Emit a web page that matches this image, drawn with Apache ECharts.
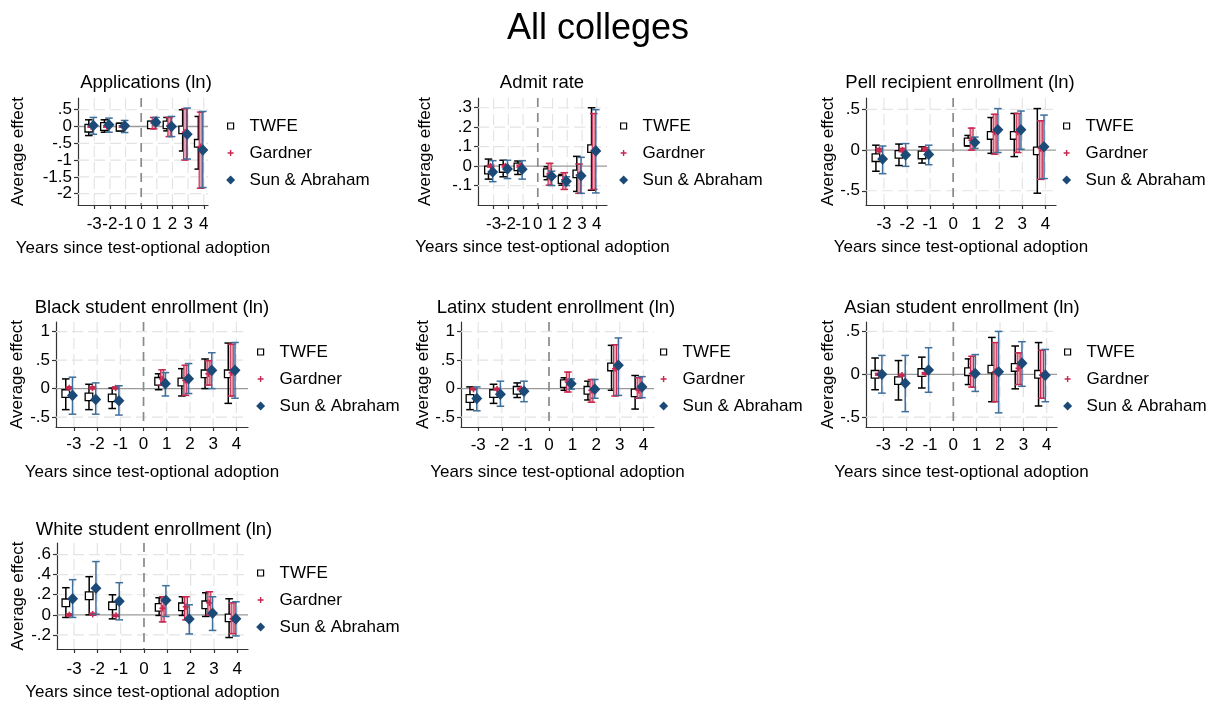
<!DOCTYPE html>
<html><head><meta charset="utf-8">
<script src="https://cdn.jsdelivr.net/npm/echarts@6/dist/echarts.min.js"></script>
<style>html,body{margin:0;padding:0;background:#fff}#c{width:1211px;height:702px}</style>
</head><body><div id="c"></div><script>
// ---------------- data ----------------
const eventTimes = [-3, -2, -1, 1, 2, 3, 4];
const xTicks = [-3, -2, -1, 0, 1, 2, 3, 4];
const estimators = ['TWFE', 'Gardner', 'Sun & Abraham'];
const mainTitle = 'All colleges';
const xTitle = 'Years since test-optional adoption';
const yTitle = 'Average effect';
const panelTitles = ['Applications (ln)', 'Admit rate', 'Pell recipient enrollment (ln)',
  'Black student enrollment (ln)', 'Latinx student enrollment (ln)', 'Asian student enrollment (ln)',
  'White student enrollment (ln)'];

const yTicksApp = [-2, -1.5, -1, -0.5, 0, 0.5];
const yTicksAdmit = [-0.1, 0, 0.1, 0.2, 0.3];
const yTicksPell = [-0.5, 0, 0.5];
const yTicksBlack = [-0.5, 0, 0.5, 1];
const yTicksLatinx = [-0.5, 0, 0.5, 1];
const yTicksAsian = [-0.5, 0, 0.5];
const yTicksWhite = [-0.2, 0, 0.2, 0.4, 0.6];

// rows: [estimate, lower CI, upper CI] for event times -3,-2,-1,1,2,3,4
const appTWFE    = [[-0.05,-0.27,0.2],[0,-0.17,0.2],[-0.02,-0.13,0.1],[0.05,-0.05,0.15],[0.05,-0.13,0.27],[-0.1,-0.73,0.5],[-0.5,-1.27,0.3]];
const appGardner = [[0,-0.02,0.02],[0,-0.02,0.02],[0,-0.02,0.02],[0.1,-0.07,0.27],[0.02,-0.3,0.27],[-0.17,-1.0,0.53],[-0.6,-1.84,0.43]];
const appSA      = [[0.03,-0.23,0.27],[0.05,-0.17,0.25],[0.02,-0.18,0.18],[0.13,0.05,0.27],[0,-0.3,0.3],[-0.23,-0.97,0.55],[-0.7,-1.82,0.45]];

const admitTWFE    = [[-0.02,-0.067,0.036],[-0.012,-0.055,0.03],[-0.004,-0.043,0.026],[-0.034,-0.07,-0.003],[-0.069,-0.098,-0.043],[-0.04,-0.13,0.05],[0.09,-0.124,0.3]];
const admitGardner = [[0,-0.005,0.005],[0,-0.005,0.005],[0,-0.005,0.005],[-0.04,-0.098,0.014],[-0.07,-0.12,-0.034],[-0.045,-0.14,0.01],[0.08,-0.12,0.27]];
const admitSA      = [[-0.03,-0.08,0.028],[-0.015,-0.064,0.03],[-0.016,-0.067,0.028],[-0.052,-0.1,-0.026],[-0.078,-0.1,-0.055],[-0.05,-0.14,0.045],[0.078,-0.138,0.29]];

const pellTWFE    = [[-0.094,-0.26,0.06],[-0.053,-0.19,0.074],[-0.06,-0.16,0.04],[0.1,0.05,0.18],[0.18,-0.04,0.4],[0.18,-0.08,0.45],[-0.01,-0.53,0.51]];
const pellGardner = [[0,-0.02,0.02],[0,-0.02,0.02],[0.01,-0.01,0.03],[0.12,0,0.27],[0.22,-0.05,0.44],[0.22,-0.03,0.45],[0.02,-0.36,0.36]];
const pellSA      = [[-0.11,-0.29,0.05],[-0.06,-0.2,0.08],[-0.053,-0.18,0.06],[0.094,0.02,0.16],[0.25,-0.03,0.51],[0.25,0.01,0.48],[0.04,-0.35,0.43]];

const blackTWFE    = [[-0.087,-0.37,0.17],[-0.145,-0.37,0.076],[-0.163,-0.35,0.01],[0.128,-0.02,0.26],[0.116,-0.13,0.35],[0.26,0,0.52],[0.26,-0.26,0.8]];
const blackGardner = [[0.01,-0.005,0.03],[0.01,-0.005,0.03],[0.01,-0.005,0.03],[0.17,0.06,0.33],[0.145,-0.12,0.41],[0.26,0.06,0.49],[0.28,-0.13,0.78]];
const blackSA      = [[-0.12,-0.45,0.2],[-0.19,-0.45,0.1],[-0.215,-0.465,0.05],[0.087,-0.13,0.28],[0.174,-0.087,0.44],[0.32,0,0.63],[0.32,-0.17,0.81]];

const latinxTWFE    = [[-0.174,-0.37,0.03],[-0.087,-0.26,0.076],[-0.03,-0.157,0.1],[0.087,-0.03,0.19],[-0.03,-0.2,0.13],[0.38,-0.03,0.76],[-0.075,-0.36,0.23]];
const latinxGardner = [[-0.01,-0.02,0.005],[-0.01,-0.02,0.005],[-0.01,-0.02,0.005],[0.116,-0.06,0.29],[-0.03,-0.24,0.16],[0.35,-0.13,0.77],[-0.03,-0.17,0.19]];
const latinxSA      = [[-0.174,-0.39,0.03],[-0.1,-0.31,0.13],[-0.047,-0.23,0.13],[0.087,-0.01,0.17],[-0.01,-0.17,0.16],[0.41,-0.12,0.89],[0.03,-0.16,0.21]];

const asianTWFE    = [[0,-0.18,0.19],[-0.074,-0.3,0.16],[0.02,-0.16,0.2],[0.03,-0.12,0.18],[0.06,-0.32,0.43],[0.08,-0.17,0.33],[0,-0.37,0.37]];
const asianGardner = [[0,-0.01,0.01],[-0.01,-0.02,0],[0.01,0,0.02],[0.01,-0.15,0.21],[0.03,-0.32,0.37],[0.07,-0.12,0.25],[-0.01,-0.28,0.28]];
const asianSA      = [[0,-0.22,0.22],[-0.105,-0.436,0.22],[0.05,-0.21,0.31],[0.01,-0.2,0.23],[0.03,-0.45,0.5],[0.13,-0.14,0.38],[-0.01,-0.32,0.29]];

const whiteTWFE    = [[0.12,-0.026,0.27],[0.19,0,0.38],[0.09,-0.04,0.2],[0.074,-0.006,0.17],[0.08,-0.006,0.18],[0.1,-0.016,0.22],[-0.03,-0.226,0.16]];
const whiteGardner = [[0,-0.01,0.01],[0.006,-0.004,0.016],[-0.006,-0.016,0.004],[0.065,-0.07,0.18],[0.08,-0.05,0.18],[0.12,0,0.23],[-0.04,-0.187,0.12]];
const whiteSA      = [[0.16,-0.026,0.35],[0.265,0.006,0.53],[0.135,-0.05,0.32],[0.145,-0.016,0.29],[-0.042,-0.19,0.1],[0.016,-0.155,0.18],[-0.04,-0.21,0.13]];

// ---------------- layout / style ----------------
const FONT = "'Liberation Sans', Arial, Helvetica, sans-serif";
const LABEL_FONT = "17px 'Liberation Sans', Arial, Helvetica, sans-serif";
const xOffsets = [-0.35, -0.2, -0.06];
const C_TWFE = '#000000', C_G = '#c8284f', C_G_FILL = '#e7a9b8', C_SA_BAR = '#3f6f9b', C_SA = '#1c4a78';

const panels = [
  {series:[appTWFE, appGardner, appSA], yTicks:yTicksApp, left:78, top:98, width:130, height:107, xMin:-4.04, xMax:4.27, yMin:-2.34, yMax:0.85, tx:146, ty:83, lx:238, ly:126, yGap:51, xLabM:11, xGap:35},
  {series:[admitTWFE, admitGardner, admitSA], yTicks:yTicksAdmit, left:478, top:98, width:129, height:107, xMin:-4.06, xMax:4.7, yMin:-0.2, yMax:0.35, tx:542, ty:83, lx:631, ly:126, yGap:44, xLabM:11, xGap:34},
  {series:[pellTWFE, pellGardner, pellSA], yTicks:yTicksPell, left:866, top:98, width:190, height:107, xMin:-3.78, xMax:4.46, yMin:-0.675, yMax:0.64, tx:960, ty:83, lx:1074, ly:126, yGap:29, xLabM:11, xGap:34},
  {series:[blackTWFE, blackGardner, blackSA], yTicks:yTicksBlack, left:56, top:322, width:192, height:105, xMin:-3.77, xMax:4.5, yMin:-0.675, yMax:1.17, tx:152, ty:308, lx:268, ly:352, yGap:30, xLabM:9, xGap:37},
  {series:[latinxTWFE, latinxGardner, latinxSA], yTicks:yTicksLatinx, left:461, top:322, width:193, height:105, xMin:-3.73, xMax:4.45, yMin:-0.675, yMax:1.17, tx:556, ty:308, lx:671, ly:352, yGap:29, xLabM:10, xGap:37},
  {series:[asianTWFE, asianGardner, asianSA], yTicks:yTicksAsian, left:866, top:322, width:191, height:105, xMin:-3.74, xMax:4.44, yMin:-0.615, yMax:0.61, tx:962, ty:308, lx:1075, ly:352, yGap:29, xLabM:10, xGap:37},
  {series:[whiteTWFE, whiteGardner, whiteSA], yTicks:yTicksWhite, left:57, top:543, width:191, height:109, xMin:-3.73, xMax:4.46, yMin:-0.34, yMax:0.715, tx:154, ty:530, lx:268, ly:573, yGap:30, xLabM:12, xGap:35}
];

function fmtY(v) {
  const s = String(+(+v).toFixed(2));
  return s.replace(/^(-?)0\./, '$1.');
}

function txt(text, x, y, align, valign) {
  return {type:'text', x:x, y:y, silent:true,
    style:{text:text, font:LABEL_FONT, fill:'#000', textAlign:align, textVerticalAlign:valign,
      align:align, verticalAlign:valign}};
}

function gridRender(p) {
  return function (params, api) {
    const cs = params.coordSys;
    const ch = [];
    xTicks.forEach(function (v) {
      const px = api.coord([v, 0])[0];
      if (v !== 0) {
        ch.push({type:'line', shape:{x1:px, y1:cs.y, x2:px, y2:cs.y + cs.height},
          style:{stroke:'#e4e4e4', lineWidth:1.2, lineDash:[11, 5]}});
      }
      ch.push(txt(String(v), px, cs.y + cs.height + p.xLabM, 'center', 'top'));
    });
    p.yTicks.forEach(function (v) {
      const py = api.coord([0, v])[1];
      if (v !== 0) {
        ch.push({type:'line', shape:{x1:cs.x, y1:py, x2:cs.x + cs.width, y2:py},
          style:{stroke:'#e4e4e4', lineWidth:1.2, lineDash:[11, 5]}});
      }
      ch.push(txt(fmtY(v), cs.x - 6, py, 'right', 'middle'));
    });
    const y0 = api.coord([0, 0])[1];
    ch.push({type:'line', shape:{x1:cs.x, y1:y0, x2:cs.x + cs.width, y2:y0},
      style:{stroke:'#9a9a9a', lineWidth:1.3}});
    const x0 = api.coord([0, 0])[0];
    ch.push({type:'line', shape:{x1:x0, y1:cs.y, x2:x0, y2:cs.y + cs.height},
      style:{stroke:'#8a8a8a', lineWidth:1.7, lineDash:[9, 6]}});
    return {type:'group', children:ch};
  };
}

function estRender(k) {
  return function (params, api) {
    const x = api.value(0), e = api.value(1), lo = api.value(2), hi = api.value(3);
    const pE = api.coord([x, e]), pL = api.coord([x, lo]), pH = api.coord([x, hi]);
    const cx = pE[0], ch = [];
    const cap = 3.8;
    let barColor = k === 0 ? C_TWFE : (k === 1 ? C_G : C_SA_BAR);
    if (k === 1) {
      ch.push({type:'rect', shape:{x:cx - 1.5, y:pH[1], width:3, height:pL[1] - pH[1]},
        style:{fill:C_G_FILL, stroke:C_G, lineWidth:1.1}});
    } else {
      ch.push({type:'line', shape:{x1:cx, y1:pL[1], x2:cx, y2:pH[1]}, style:{stroke:barColor, lineWidth:1.5}});
    }
    ch.push({type:'line', shape:{x1:cx - cap, y1:pL[1], x2:cx + cap, y2:pL[1]}, style:{stroke:barColor, lineWidth:1.5}});
    ch.push({type:'line', shape:{x1:cx - cap, y1:pH[1], x2:cx + cap, y2:pH[1]}, style:{stroke:barColor, lineWidth:1.5}});
    if (k === 0) {
      ch.push({type:'rect', shape:{x:cx - 3.8, y:pE[1] - 3.8, width:7.6, height:7.6},
        style:{fill:'#ffffff', stroke:C_TWFE, lineWidth:1.3}});
    } else if (k === 1) {
      ch.push({type:'line', shape:{x1:cx - 3.2, y1:pE[1], x2:cx + 3.2, y2:pE[1]}, style:{stroke:C_G, lineWidth:1.6}});
      ch.push({type:'line', shape:{x1:cx, y1:pE[1] - 3.2, x2:cx, y2:pE[1] + 3.2}, style:{stroke:C_G, lineWidth:1.6}});
    } else {
      ch.push({type:'polygon', shape:{points:[[cx, pE[1] - 5.8], [cx + 5.5, pE[1]], [cx, pE[1] + 5.8], [cx - 5.5, pE[1]]]},
        style:{fill:C_SA}});
    }
    return {type:'group', children:ch};
  };
}

const legendIcons = [
  {icon:'path://M0,0M12,12M3,3H9V9H3Z', itemStyle:{color:'#ffffff', borderColor:'#000', borderWidth:1.2}},
  {icon:'path://M0,0M12,12M5.3,3H6.7V5.3H9V6.7H6.7V9H5.3V6.7H3V5.3H5.3Z', itemStyle:{color:C_G, borderWidth:0}},
  {icon:'path://M0,0M12,12M6,1.5L10.5,6L6,10.5L1.5,6Z', itemStyle:{color:C_SA, borderWidth:0}}
];

const option = {
  animation:false,
  backgroundColor:'#ffffff',
  textStyle:{fontFamily:FONT},
  title:[{text:mainTitle, left:598, top:11, textAlign:'center', padding:0,
          textStyle:{fontSize:36, fontWeight:'normal', color:'#000', fontFamily:FONT}}]
    .concat(panels.map(function (p, i) {
      return {text:panelTitles[i], left:p.tx, top:p.ty - 10, textAlign:'center', padding:0,
        textStyle:{fontSize:18.5, fontWeight:'normal', color:'#000', fontFamily:FONT}};
    })),
  legend:panels.map(function (p) {
    return {orient:'vertical', left:p.lx - 14, top:p.ly - 8.5, itemWidth:28, itemHeight:12, itemGap:10,
      padding:0, selectedMode:false,
      textStyle:{fontSize:17, color:'#000', fontFamily:FONT},
      data:estimators.map(function (n, k) { return Object.assign({name:n}, legendIcons[k]); })};
  }),
  grid:panels.map(function (p) {
    return {left:p.left, top:p.top, width:p.width, height:p.height, containLabel:false};
  }),
  xAxis:panels.map(function (p, i) {
    return {type:'value', gridIndex:i, min:p.xMin, max:p.xMax,
      axisLine:{show:true, onZero:false, lineStyle:{color:'#333', width:1.2}},
      axisTick:{show:true, customValues:xTicks, length:4, lineStyle:{color:'#333', width:1.2}},
      axisLabel:{show:false},
      splitLine:{show:false},
      name:xTitle, nameLocation:'middle', nameGap:p.xGap,
      nameTextStyle:{fontSize:17, color:'#000', fontFamily:FONT}};
  }),
  yAxis:panels.map(function (p, i) {
    return {type:'value', gridIndex:i, min:p.yMin, max:p.yMax,
      axisLine:{show:true, onZero:false, lineStyle:{color:'#333', width:1.2}},
      axisTick:{show:true, customValues:p.yTicks, length:4, lineStyle:{color:'#333', width:1.2}},
      axisLabel:{show:false},
      splitLine:{show:false},
      name:yTitle, nameLocation:'middle', nameGap:p.yGap, nameRotate:90,
      nameTextStyle:{fontSize:17, color:'#000', fontFamily:FONT}};
  }),
  series:[]
};

panels.forEach(function (p, i) {
  option.series.push({type:'custom', name:'grid' + i, xAxisIndex:i, yAxisIndex:i, z:1, silent:true,
    clip:false, renderItem:gridRender(p), data:[[0, 0]]});
  p.series.forEach(function (arr, k) {
    option.series.push({type:'custom', name:estimators[k], xAxisIndex:i, yAxisIndex:i, z:2 + k, silent:true,
      renderItem:estRender(k), encode:{x:0, y:1},
      data:arr.map(function (r, j) { return [eventTimes[j] + xOffsets[k], r[0], r[1], r[2]]; })});
  });
});

const chart = echarts.init(document.getElementById('c'), null, {renderer:'canvas'});
chart.setOption(option);
</script></body></html>
